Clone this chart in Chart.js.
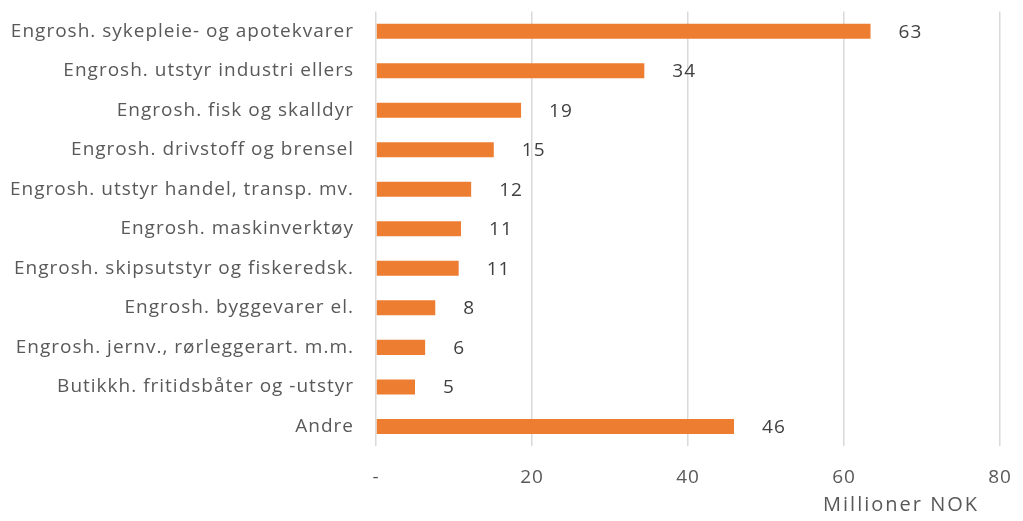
<!DOCTYPE html>
<html>
<head>
<meta charset="utf-8">
<script src="https://cdn.jsdelivr.net/npm/chart.js@4/dist/chart.umd.min.js"></script>
<style>
  html, body { margin: 0; padding: 0; background: #fff; }
  canvas { display: block; }
</style>
</head>
<body>
<canvas id="c" width="1023" height="521"></canvas>
<script>
const categories = [
  "Engrosh. sykepleie- og apotekvarer",
  "Engrosh. utstyr industri ellers",
  "Engrosh. fisk og skalldyr",
  "Engrosh. drivstoff og brensel",
  "Engrosh. utstyr handel, transp. mv.",
  "Engrosh. maskinverktøy",
  "Engrosh. skipsutstyr og fiskeredsk.",
  "Engrosh. byggevarer el.",
  "Engrosh. jernv., rørleggerart. m.m.",
  "Butikkh. fritidsbåter og -utstyr",
  "Andre"
];
const values = [63.4, 34.4, 18.6, 15.1, 12.2, 10.9, 10.6, 7.6, 6.3, 5.0, 45.9];
const xTicks = [0, 20, 40, 60, 80];
const axisTitle = "Millioner NOK";

const FONT = "'Open Sans', 'Noto Sans', sans-serif";

const spacing = {
  id: 'spacing',
  beforeUpdate(chart) { chart.ctx.letterSpacing = '1px'; },
  beforeLayout(chart) { chart.ctx.letterSpacing = '1px'; },
  beforeDraw(chart) { chart.ctx.letterSpacing = '1px'; }
};

const valueLabels = {
  id: 'valueLabels',
  afterDatasetsDraw(chart) {
    const ctx = chart.ctx;
    const meta = chart.getDatasetMeta(0);
    ctx.save();
    ctx.font = "19px " + FONT;
    ctx.fillStyle = "#404040";
    ctx.textAlign = "left";
    ctx.textBaseline = "middle";
    meta.data.forEach((bar, i) => {
      ctx.fillText(Math.round(values[i]).toString(), bar.x + 28, bar.y + 1);
    });
    ctx.restore();
  }
};

const axisTitleDraw = {
  id: 'axisTitleDraw',
  afterDraw(chart) {
    const ctx = chart.ctx;
    const xs = chart.scales.x;
    ctx.save();
    ctx.font = "20px " + FONT;
    ctx.letterSpacing = '2px';
    ctx.fillStyle = "#595959";
    ctx.textAlign = "right";
    ctx.textBaseline = "middle";
    ctx.fillText(axisTitle, xs.right - 21, xs.bottom + 16);
    ctx.restore();
  }
};

new Chart(document.getElementById('c'), {
  type: 'bar',
  data: {
    labels: categories,
    datasets: [{
      data: values,
      backgroundColor: '#ED7D31',
      barPercentage: 0.38,
      categoryPercentage: 1.0
    }]
  },
  options: {
    indexAxis: 'y',
    responsive: false,
    animation: false,
    layout: { padding: { top: 0, right: 23, bottom: 32, left: 0 } },
    plugins: {
      legend: { display: false },
      tooltip: { enabled: false }
    },
    scales: {
      x: {
        min: 0, max: 80,
        afterBuildTicks(scale) { scale.ticks = xTicks.map(v => ({ value: v })); },
        grid: { color: '#d9d9d9', lineWidth: 1.5, drawTicks: true, tickLength: 20, tickColor: 'rgba(0,0,0,0)' },
        border: { display: false },
        ticks: {
          padding: 0,
          color: '#595959',
          font: { family: FONT, size: 19 },
          callback: (v) => v === 0 ? '-' : v
        }
      },
      y: {
        afterFit(scale) { scale.width = 376; },
        grid: { display: false, drawTicks: true, tickLength: 22 },
        border: { display: false },
        ticks: {
          padding: 0,
          color: '#595959',
          font: { family: FONT, size: 19 }
        }
      }
    }
  },
  plugins: [spacing, valueLabels, axisTitleDraw]
});
</script>
</body>
</html>
